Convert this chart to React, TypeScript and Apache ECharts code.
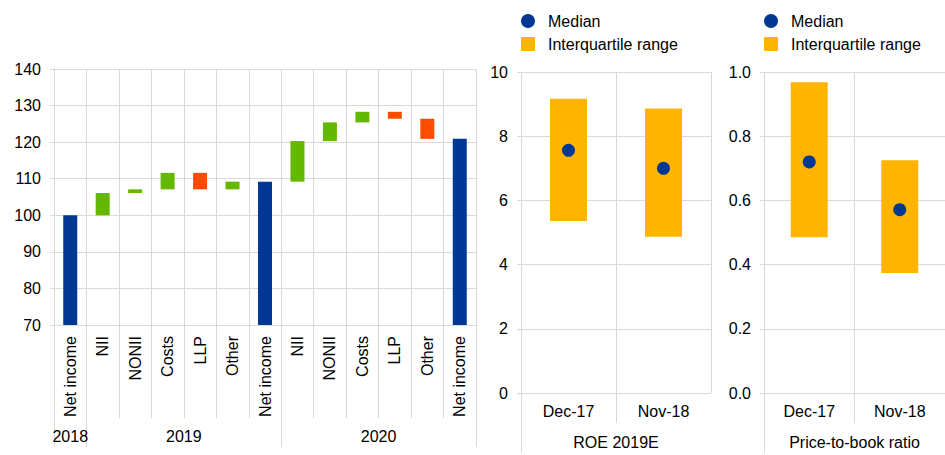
import React, { useEffect, useRef } from "react";
import * as echarts from "echarts";

// ---------- data ----------
const categories = [
  "Net income", "NII", "NONII", "Costs", "LLP", "Other",
  "Net income", "NII", "NONII", "Costs", "LLP", "Other", "Net income",
];
const kinds = [
  "total", "change", "change", "change", "change", "change",
  "total", "change", "change", "change", "change", "change", "total",
];
const values = [100, 6.1, 1.0, 4.5, -4.5, 2.1, 109.2, 11.1, 5.1, 2.9, -1.9, -5.5, 120.9];
const yearLabels = ["2018", "2019", "2020"];
const yearBounds = [0, 1, 7, 13];
const yTicks = { min: 70, max: 140, interval: 10 };

const periodCats = ["Dec-17", "Nov-18"];
const roeQ1 = [5.36, 4.87];
const roeQ3 = [9.17, 8.86];
const roeMedian = [7.56, 7.0];
const pbQ1 = [0.485, 0.374];
const pbQ3 = [0.968, 0.725];
const pbMedian = [0.72, 0.571];

// ---------- style ----------
const BLUE = "#003894";
const GREEN = "#65b800";
const RED = "#ff4b00";
const ORANGE = "#ffb400";
const GRIDC = "#d9d9d9";
const FS = 16;
const FONT = "'Liberation Sans', Arial, sans-serif";

function buildWaterfall() {
  const base: number[] = [];
  const height: any[] = [];
  let level = 0;
  values.forEach((v, i) => {
    if (kinds[i] === "total") {
      base.push(yTicks.min);
      height.push({ value: v - yTicks.min, itemStyle: { color: BLUE } });
      level = v;
    } else {
      const lo = Math.min(level, level + v);
      base.push(lo);
      height.push({ value: Math.abs(v), itemStyle: { color: v >= 0 ? GREEN : RED } });
      level += v;
    }
  });
  return { base, height };
}

const yAxisCommon = {
  axisLine: { show: true, lineStyle: { color: GRIDC } },
  axisTick: { show: true, length: 4, lineStyle: { color: GRIDC } },
  splitLine: { show: true, lineStyle: { color: GRIDC } },
  axisLabel: { color: "#000", fontSize: FS, margin: 13, fontFamily: FONT },
};

function extAxis(gridIndex: number, max: number, ticks: number[], length: number, offset = 0, labels?: any) {
  return {
    type: "value",
    gridIndex,
    min: 0,
    max,
    position: "bottom",
    offset,
    axisLine: { show: false },
    splitLine: { show: false },
    axisTick: { show: true, customValues: ticks, length, lineStyle: { color: GRIDC } },
    axisLabel: labels ? labels : { show: false },
  };
}

export default function App() {
  const ref = useRef<HTMLDivElement>(null);
  useEffect(() => {
    if (!ref.current) return;
    const chart = echarts.init(ref.current, null, { renderer: "svg" });
    const wf = buildWaterfall();
    const yearCenters = yearLabels.map((_, i) => (yearBounds[i] + yearBounds[i + 1]) / 2);

    const catAxis = (gridIndex: number, data: string[], extra: any) => ({
      type: "category",
      gridIndex,
      data,
      boundaryGap: true,
      axisLine: { show: true, lineStyle: { color: GRIDC } },
      axisTick: { show: false },
      splitLine: { show: true, interval: 0, lineStyle: { color: GRIDC } },
      ...extra,
    });

    const option: any = {
      animation: false,
      textStyle: { fontFamily: FONT, color: "#000" },
      legend: [516, 759].map((left) => ({
        left,
        top: 8,
        orient: "vertical",
        itemWidth: 14,
        itemHeight: 14,
        itemGap: 7,
        selectedMode: false,
        data: [
          { name: "Median", icon: "circle", itemStyle: { color: BLUE, opacity: 1 } },
          { name: "Interquartile range", icon: "rect", itemStyle: { color: ORANGE, opacity: 1 } },
        ],
        textStyle: { fontSize: FS, color: "#000", fontFamily: FONT, padding: [0, 0, 0, 8] },
      })),
      grid: [
        { left: 54, right: 469, top: 69, bottom: 130 },
        { left: 521, right: 234, top: 72, bottom: 60 },
        { left: 764, right: -3, top: 72, bottom: 60 },
      ],
      xAxis: [
        catAxis(0, categories, {
          axisTick: { show: true, interval: 0, length: 93, lineStyle: { color: GRIDC } },
          axisLabel: { interval: 0, rotate: 90, margin: 11, color: "#000", fontSize: FS, fontFamily: FONT },
        }),
        extAxis(0, categories.length, yearBounds, 29, 93, {
          show: true,
          customValues: yearCenters,
          margin: 10,
          color: "#000",
          fontSize: FS,
          fontFamily: FONT,
          formatter: (v: number) => {
            const i = yearCenters.findIndex((c) => Math.abs(c - v) < 1e-6);
            return i >= 0 ? yearLabels[i] : "";
          },
        }),
        catAxis(1, periodCats, {
          axisLabel: { interval: 0, margin: 10, color: "#000", fontSize: FS, fontFamily: FONT },
          name: "ROE 2019E",
          nameLocation: "middle",
          nameGap: 41,
          nameTextStyle: { fontSize: FS, color: "#000", fontFamily: FONT },
        }),
        extAxis(1, periodCats.length, [1], 30),
        extAxis(1, periodCats.length, [0], 60),
        catAxis(2, periodCats, {
          axisLabel: { interval: 0, margin: 10, color: "#000", fontSize: FS, fontFamily: FONT },
          name: "Price-to-book ratio",
          nameLocation: "middle",
          nameGap: 41,
          nameTextStyle: { fontSize: FS, color: "#000", fontFamily: FONT },
        }),
        extAxis(2, periodCats.length, [1], 30),
        extAxis(2, periodCats.length, [0], 60),
      ],
      yAxis: [
        { type: "value", gridIndex: 0, min: yTicks.min, max: yTicks.max, interval: yTicks.interval, ...yAxisCommon },
        { type: "value", gridIndex: 1, min: 0, max: 10, interval: 2, ...yAxisCommon },
        {
          type: "value", gridIndex: 2, min: 0, max: 1, interval: 0.2, ...yAxisCommon,
          axisLabel: { ...yAxisCommon.axisLabel, formatter: (v: number) => v.toFixed(1) },
        },
      ],
      series: [
        {
          name: "wf-base", type: "bar", xAxisIndex: 0, yAxisIndex: 0, stack: "wf",
          barWidth: 14, itemStyle: { color: "transparent" }, data: wf.base, silent: true,
        },
        {
          name: "wf-change", type: "bar", xAxisIndex: 0, yAxisIndex: 0, stack: "wf",
          barWidth: 14, data: wf.height,
        },
        {
          name: "roe-base", type: "bar", xAxisIndex: 2, yAxisIndex: 1, stack: "roe",
          barWidth: 37, itemStyle: { color: "transparent" }, data: roeQ1, silent: true,
        },
        {
          name: "Interquartile range", type: "bar", xAxisIndex: 2, yAxisIndex: 1, stack: "roe",
          barWidth: 37, itemStyle: { color: ORANGE }, data: roeQ3.map((q, i) => +(q - roeQ1[i]).toFixed(3)),
        },
        {
          name: "pb-base", type: "bar", xAxisIndex: 5, yAxisIndex: 2, stack: "pb",
          barWidth: 37, itemStyle: { color: "transparent" }, data: pbQ1, silent: true,
        },
        {
          name: "Interquartile range", type: "bar", xAxisIndex: 5, yAxisIndex: 2, stack: "pb",
          barWidth: 37, itemStyle: { color: ORANGE }, data: pbQ3.map((q, i) => +(q - pbQ1[i]).toFixed(3)),
        },
        {
          name: "Median", type: "scatter", xAxisIndex: 2, yAxisIndex: 1, symbol: "circle",
          symbolSize: 13, itemStyle: { color: BLUE, opacity: 1 }, data: roeMedian, z: 5,
        },
        {
          name: "Median", type: "scatter", xAxisIndex: 5, yAxisIndex: 2, symbol: "circle",
          symbolSize: 13, itemStyle: { color: BLUE, opacity: 1 }, data: pbMedian, z: 5,
        },
      ],
    };
    chart.setOption(option);
    return () => chart.dispose();
  }, []);
  return (
    <div
      ref={ref}
      style={{ position: "fixed", left: 0, top: 0, width: 945, height: 455, background: "#fff" }}
    />
  );
}
